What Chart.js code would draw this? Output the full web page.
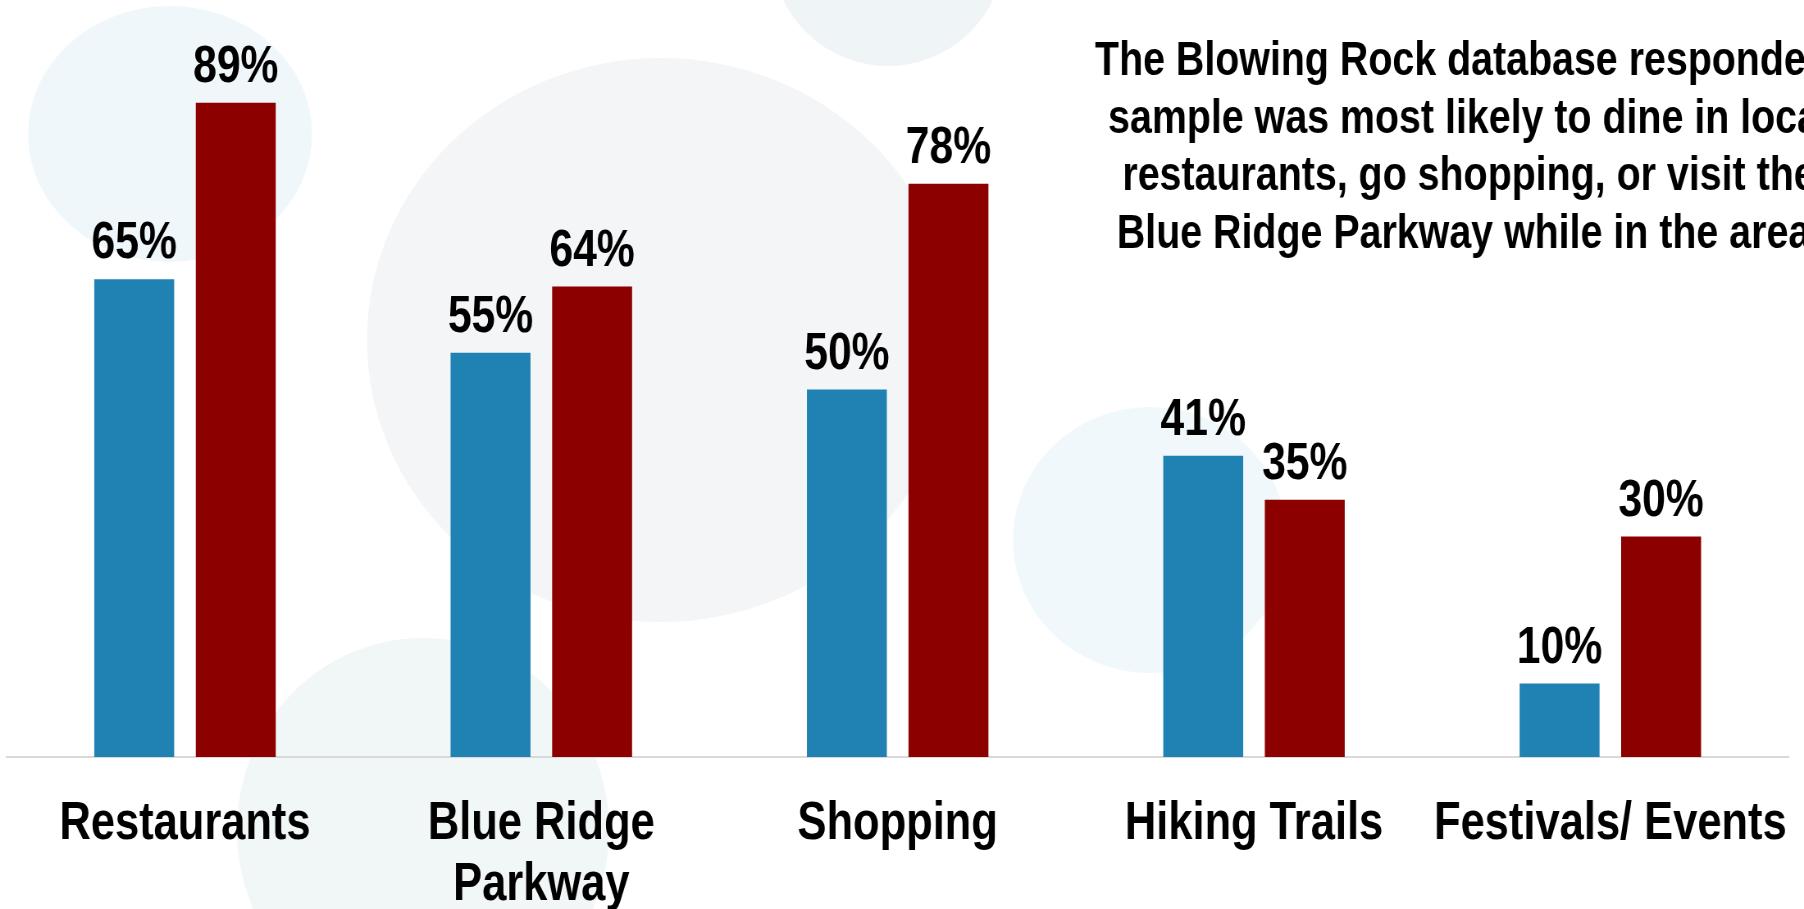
<!DOCTYPE html>
<html>
<head>
<meta charset="utf-8">
<title>Blowing Rock activities</title>
<script src="https://cdn.jsdelivr.net/npm/chart.js@4.4.1/dist/chart.umd.min.js"></script>
<style>
  html, body { margin: 0; padding: 0; background: #ffffff; }
  #wrap { width: 1804px; height: 909px; overflow: hidden; }
  canvas { display: block; }
</style>
</head>
<body>
<div id="wrap">
  <!-- drawn on a wider bitmap and shown narrower, which gives the condensed lettering -->
  <canvas id="chart" width="2200" height="909" style="width:1804px;height:909px;"></canvas>
</div>
<script>
// Activities done while in the area (% of respondents)
const categories = ['Restaurants', ['Blue Ridge', 'Parkway'], 'Shopping', 'Hiking Trails', 'Festivals/ Events'];
const databaseSample = [65, 55, 50, 41, 10];
const comparisonSample = [89, 64, 78, 35, 30];
const seriesNames = ['Database sample', 'Comparison sample'];
const noteLines = [
  'The Blowing Rock database respondent',
  'sample was most likely to dine in local',
  'restaurants, go shopping, or visit the',
  'Blue Ridge Parkway while in the area.'
];

const FONT = "'Liberation Sans', Arial, sans-serif";
const BLUE = '#1f82b3';
const RED = '#8c0000';
const SQUEEZE = 0.82;            // horizontal display factor of the canvas
const sx = (x) => x / SQUEEZE;   // screen x -> canvas x

// Soft decorative discs behind the plot
const backdrop = {
  id: 'backdrop',
  beforeDraw(chart) {
    const ctx = chart.ctx;
    ctx.save();
    ctx.fillStyle = '#ffffff';
    ctx.fillRect(0, 0, chart.width, chart.height);
    const discs = [
      { x: 661, y: 340, rx: 294, ry: 282, c: '#f4f5f7' },
      { x: 170, y: 134, rx: 142, ry: 128, c: '#f0f7fb' },
      { x: 888, y: -50, rx: 116, ry: 116, c: '#eff5f6' },
      { x: 423, y: 830, rx: 186, ry: 192, c: '#f1f6f6' },
      { x: 1150, y: 540, rx: 137, ry: 133, c: '#f1f8fb' }
    ];
    for (const d of discs) {
      ctx.beginPath();
      ctx.ellipse(sx(d.x), d.y, sx(d.rx), d.ry, 0, 0, Math.PI * 2);
      ctx.fillStyle = d.c;
      ctx.fill();
    }
    ctx.restore();
  }
};

// Percentage above each bar
const valueLabels = {
  id: 'valueLabels',
  afterDatasetsDraw(chart) {
    const ctx = chart.ctx;
    ctx.save();
    ctx.font = 'bold 52px ' + FONT;
    ctx.fillStyle = '#000000';
    ctx.textAlign = 'center';
    ctx.textBaseline = 'alphabetic';
    chart.data.datasets.forEach((ds, i) => {
      const meta = chart.getDatasetMeta(i);
      meta.data.forEach((bar, j) => {
        ctx.fillText(ds.data[j] + '%', bar.x, bar.y - 21);
      });
    });
    ctx.restore();
  }
};

// Commentary block in the upper right
const note = {
  id: 'note',
  afterDraw(chart) {
    const ctx = chart.ctx;
    ctx.save();
    ctx.font = 'bold 48px ' + FONT;
    ctx.fillStyle = '#000000';
    ctx.textBaseline = 'alphabetic';
    ctx.textAlign = 'center';
    const cx = sx(1095) + ctx.measureText(noteLines[0]).width / 2;
    noteLines.forEach((line, i) => {
      ctx.fillText(line, cx, 75 + i * 57.7);
    });
    ctx.restore();
  }
};

new Chart(document.getElementById('chart'), {
  type: 'bar',
  data: {
    labels: categories,
    datasets: [
      { label: seriesNames[0], data: databaseSample, backgroundColor: BLUE, borderWidth: 0 },
      { label: seriesNames[1], data: comparisonSample, backgroundColor: RED, borderWidth: 0 }
    ]
  },
  options: {
    responsive: false,
    animation: false,
    devicePixelRatio: 1,
    layout: { padding: { top: 22, left: sx(6.8), right: 2200 - sx(1788.5), bottom: 0 } },
    datasets: { bar: { categoryPercentage: 0.57, barPercentage: 0.787 } },
    plugins: {
      legend: { display: false },
      tooltip: { enabled: false },
      title: { display: false }
    },
    scales: {
      x: {
        grid: { display: false, drawTicks: false },
        border: { display: true, color: '#d9d9d9', width: 2 },
        ticks: {
          color: '#000000',
          padding: 37,
          maxRotation: 0,
          autoSkip: false,
          font: { family: FONT, size: 53, weight: 'bold', lineHeight: 1.147 }
        },
        afterFit(scale) {
          scale.paddingLeft = 0;
          scale.paddingRight = 0;
          scale.height = 152;
        }
      },
      y: { display: false, min: 0, max: 100 }
    }
  },
  plugins: [backdrop, valueLabels, note]
});
</script>
</body>
</html>
